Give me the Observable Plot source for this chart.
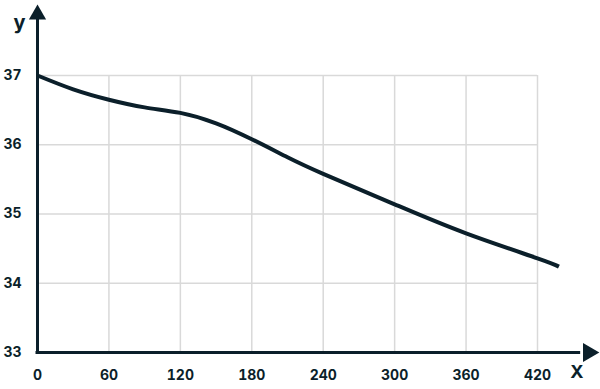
<!DOCTYPE html>
<html>
<head>
<meta charset="utf-8">
<script src="https://cdn.jsdelivr.net/npm/d3@7"></script>
<script src="https://cdn.jsdelivr.net/npm/@observablehq/plot@0.6"></script>
<style>
  html, body { margin: 0; padding: 0; background: #ffffff; }
</style>
</head>
<body>
<div id="chart"></div>
<script>
// Data
const xValues = [0, 30, 60, 90, 120, 150, 180, 210, 240, 300, 360, 420, 438];
const yValues = [37.0, 36.80, 36.65, 36.54, 36.46, 36.31, 36.08, 35.82, 35.58, 35.14, 34.72, 34.36, 34.24];
const xTicks = [0, 60, 120, 180, 240, 300, 360, 420];
const yTicks = [33, 34, 35, 36, 37];
const xGrid = [60, 120, 180, 240, 300, 360, 420];
const yGrid = [34, 35, 36, 37];
const xLabel = "X";
const yLabel = "y";

const ink = "#0b1f2a";
const gridColor = "#d9d9d9";

const points = xValues.map((x, i) => ({x, y: yValues[i]}));

const chart = Plot.plot({
  width: 600,
  height: 389,
  marginLeft: 37,
  marginRight: 63,
  marginTop: 75,
  marginBottom: 37,
  x: {domain: [0, 420]},
  y: {domain: [33, 37]},
  style: {
    fontFamily: "Inter, 'Open Sans', sans-serif",
    fontSize: "14px",
    fontWeight: 700,
    color: ink,
    background: "#ffffff",
    overflow: "visible"
  },
  marks: [
    Plot.ruleX(xGrid, {y1: 33, y2: 37, stroke: gridColor, strokeWidth: 1.5}),
    Plot.ruleY(yGrid, {x1: 0, x2: 420, stroke: gridColor, strokeWidth: 1.5}),
    Plot.line(points, {x: "x", y: "y", curve: "natural", stroke: ink, strokeWidth: 4, strokeLinecap: "butt"}),
    Plot.axisX(xTicks, {tickSize: 0, tickPadding: 18, label: null, fill: ink, tickFormat: "d"}),
    Plot.axisY(yTicks, {tickSize: 0, tickPadding: 16, label: null, fill: ink, tickFormat: "d"}),
    Plot.ruleY([33], {x1: 0, x2: 455, stroke: ink, strokeWidth: 3, strokeLinecap: "square"}),
    Plot.ruleX([0], {y1: 33, y2: 37.8, stroke: ink, strokeWidth: 3, strokeLinecap: "square"}),
    Plot.dot([0], {x: () => 462.8, y: () => 33, symbol: "triangle", r: 7, rotate: 90, fill: ink, stroke: "none"}),
    Plot.dot([0], {x: () => 0, y: () => 37.88, symbol: "triangle", r: 6.4, fill: ink, stroke: "none"}),
    Plot.text([yLabel], {frameAnchor: "top-left", text: d => d, dx: -24, dy: -61, fontSize: 20, fontWeight: 700, fill: ink}),
    Plot.text([xLabel], {frameAnchor: "bottom-right", text: d => d, dx: 46, dy: 25, fontSize: 18, fontWeight: 700, fill: ink})
  ]
});

document.getElementById("chart").appendChild(chart);
</script>
</body>
</html>
